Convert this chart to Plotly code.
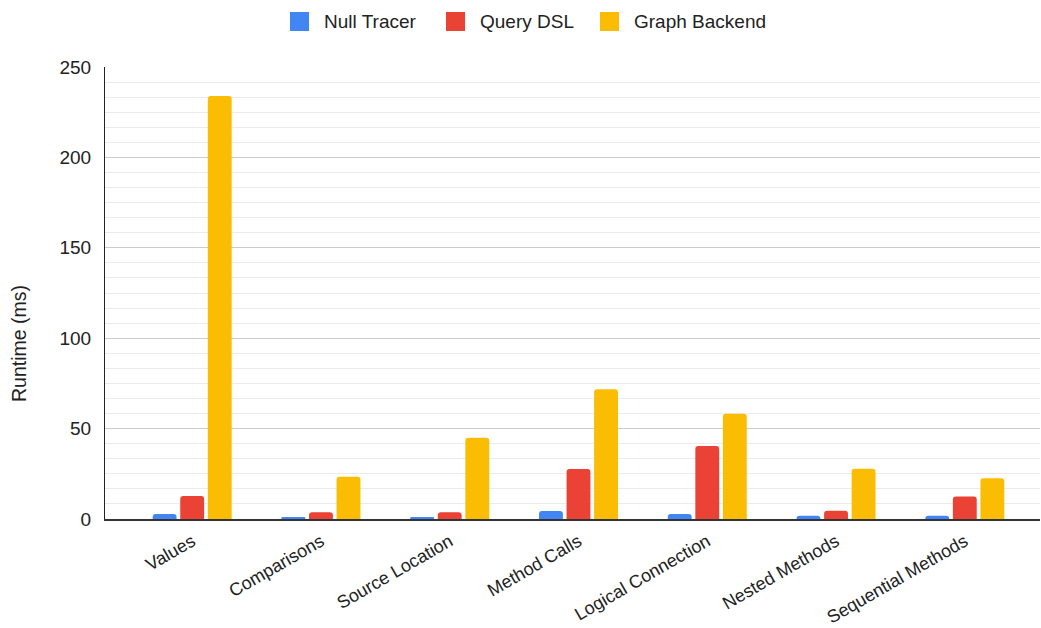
import plotly.graph_objects as go

categories = ["Values", "Comparisons", "Source Location", "Method Calls",
              "Logical Connection", "Nested Methods", "Sequential Methods"]
null_tracer = [2.7, 0.9, 0.9, 4.4, 2.8, 1.8, 1.8]
query_dsl = [12.7, 3.7, 3.7, 27.7, 40.4, 4.5, 12.5]
graph_backend = [234, 23.4, 45, 71.7, 58.2, 27.8, 22.5]

series_names = ["Null Tracer", "Query DSL", "Graph Backend"]
colors = ["#4285F4", "#EA4335", "#FBBC04"]
y_ticks = [0, 50, 100, 150, 200, 250]

FONT = "Liberation Sans, Arial, sans-serif"
TXT = "#222222"

# plot area geometry (pixels)
W, H = 1041, 628
L, R, T, B = 105, 1, 67, 109
PW, PH = W - L - R, H - T - B


def px_x(px):
    return (px - L) / PW


def px_y(py):
    return (H - B - py) / PH


fig = go.Figure()
for name, vals, col in zip(series_names, [null_tracer, query_dsl, graph_backend], colors):
    fig.add_trace(go.Bar(
        x=categories, y=vals, name=name, showlegend=False,
        marker=dict(color=col, line=dict(width=0), cornerradius=3),
    ))

# custom legend (square swatches like the reference)
legend_swatch_x = [290, 446, 600]
shapes = []
annotations = []
for name, col, sx in zip(series_names, colors, legend_swatch_x):
    shapes.append(dict(
        type="rect", xref="paper", yref="paper",
        x0=px_x(sx), x1=px_x(sx + 19), y0=px_y(31), y1=px_y(12),
        fillcolor=col, line=dict(width=0), layer="above",
    ))
    annotations.append(dict(
        text=name, showarrow=False, xref="paper", yref="paper",
        x=px_x(sx + 32), y=px_y(21.5), xanchor="left", yanchor="middle",
        font=dict(family=FONT, size=19, color=TXT),
    ))

annotations.append(dict(
    text="Runtime (ms)", textangle=-90, showarrow=False,
    xref="paper", yref="paper", x=px_x(19), y=px_y(344),
    xanchor="center", yanchor="middle",
    font=dict(family=FONT, size=19.5, color=TXT),
))

fig.update_layout(
    width=W, height=H,
    margin=dict(l=L, r=R, t=T, b=B, autoexpand=False),
    paper_bgcolor="white", plot_bgcolor="white",
    barmode="group", bargap=0.358, bargroupgap=0.134,
    font=dict(family=FONT, size=19, color=TXT),
    showlegend=False,
    xaxis=dict(
        type="category", range=[-0.677, 6.584], automargin=False,
        tickangle=-30, showgrid=False, ticks="",
        showline=True, linecolor="#333333", linewidth=2,
        tickfont=dict(size=18, color=TXT),
        ticklabelstandoff=3,
    ),
    yaxis=dict(
        range=[0, 250], tickvals=y_ticks, ticks="", automargin=False,
        showgrid=True, gridcolor="#cccccc", gridwidth=1,
        minor=dict(dtick=50 / 6, showgrid=True, gridcolor="#ebebeb", gridwidth=1, ticks=""),
        showline=True, linecolor="#222222", linewidth=1,
        zeroline=False,
        tickfont=dict(size=19, color=TXT),
        ticklabelstandoff=9,
    ),
    shapes=shapes,
    annotations=annotations,
)

fig.write_html("out.html")
